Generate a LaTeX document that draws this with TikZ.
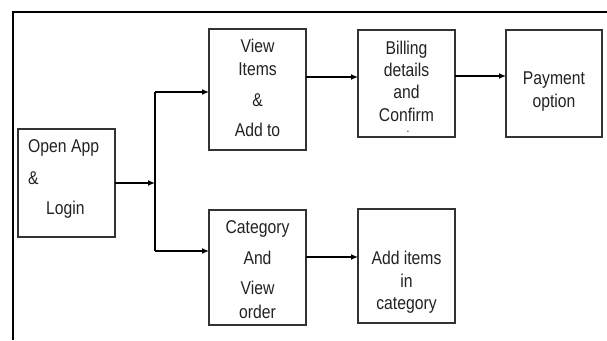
\documentclass[tikz,border=0pt]{standalone}
\usepackage{fontspec}
\setmainfont{Liberation Sans}[FakeStretch=0.85]
\usetikzlibrary{arrows.meta}
\definecolor{boxline}{HTML}{333333}
\definecolor{txt}{HTML}{222222}
\tikzset{
  box/.style={draw=boxline, line width=1.4pt, inner sep=0pt, outer sep=0pt, anchor=north west},
  lbl/.style={anchor=base, inner sep=0pt, text=txt, font=\fontsize{18.5}{21}\selectfont},
  lbll/.style={lbl, anchor=base west},
  conn/.style={draw=black, line width=1.3pt},
  arr/.style={conn, -{Latex[length=7pt,width=6pt]}},
  frame/.style={draw=black, line width=2.6pt}
}
\begin{document}
\begin{tikzpicture}[x=1pt,y=-1pt]
\useasboundingbox (0,0) rectangle (607,340);
\draw[frame] (13,340) -- (13,12) -- (607,12);

\node[box, minimum width=97pt, minimum height=108pt] (open) at (18,129) {};
\node[box, minimum width=97pt, minimum height=121pt] (view) at (209,29) {};
\node[box, minimum width=97pt, minimum height=107pt] (bill) at (358,30) {};
\node[box, minimum width=96pt, minimum height=107pt] (pay) at (506,30) {};
\node[box, minimum width=97pt, minimum height=115pt] (cat) at (209,210) {};
\node[box, minimum width=97pt, minimum height=114pt] (add) at (358,209) {};

\node[lbll] (o1) at (28,152) {Open App};
\node[lbll] (o2) at (28,184) {\&};
\node[lbll] (o3) at (46,214) {Login};

\node[lbl] (v1) at (257.5,52) {View};
\node[lbl] (v2) at (257.5,75) {Items};
\node[lbl] (v3) at (257.5,106) {\&};
\node[lbl] (v4) at (257.5,136) {Add to};

\node[lbl] (b1) at (406.5,54) {Billing};
\node[lbl] (b2) at (406.5,76) {details};
\node[lbl] (b3) at (406.5,98) {and};
\node[lbl] (b4) at (406.5,121) {Confirm};
\node[lbl, font=\fontsize{12}{14}\selectfont] (b5) at (408,132) {.};

\node[lbl] (p1) at (554,84) {Payment};
\node[lbl] (p2) at (554,107) {option};

\node[lbl] (c1) at (257.5,233) {Category};
\node[lbl] (c2) at (257.5,264) {And};
\node[lbl] (c3) at (257.5,294) {View};
\node[lbl] (c4) at (257.5,318) {order};

\node[lbl] (a1) at (406.5,264) {Add items};
\node[lbl] (a2) at (406.5,287) {in};
\node[lbl] (a3) at (406.5,309) {category};

\coordinate (jm) at (155,183);
\coordinate (jt) at (155,92);
\coordinate (jb) at (155,251);
\coordinate (r1) at (0,77);
\coordinate (r2) at (0,76);
\coordinate (r3) at (0,257);

\draw[arr] (open.east |- jm) -- (jm);
\draw[conn] (jt) -- (jb);
\draw[arr] (jt) -- (view.west |- jt);
\draw[arr] (jb) -- (cat.west |- jb);
\draw[arr] (view.east |- r1) -- (bill.west |- r1);
\draw[arr] (bill.east |- r2) -- (pay.west |- r2);
\draw[arr] (cat.east |- r3) -- (add.west |- r3);
\end{tikzpicture}
\end{document}
